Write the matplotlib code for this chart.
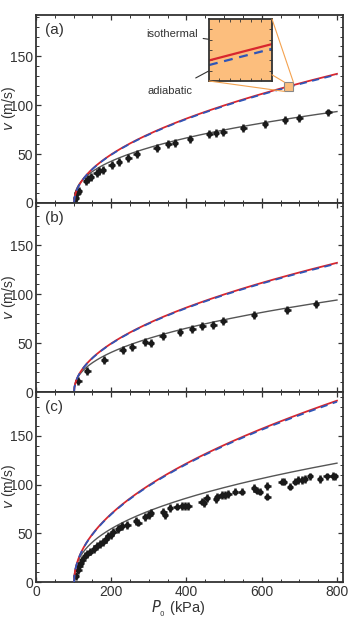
import numpy as np
import matplotlib
matplotlib.use('Agg')
import matplotlib.pyplot as plt
from matplotlib.patches import Rectangle, ConnectionPatch
from matplotlib.ticker import MultipleLocator

plt.rcParams['font.family'] = ['Liberation Sans', 'DejaVu Sans']

# measured data, P0 in kPa, v in m/s
P_a = [104.5, 106.3, 109.9, 113.4, 132.9, 139.1, 145.3, 161.2, 168.3, 177.2, 201.1,
       220.6, 245.4, 267.5, 320.7, 351.7, 369.4, 409.3, 460.7, 478.4, 497.9, 551.1,
       608.6, 661.8, 699.9, 777.0]
v_a = [0.3, 5.4, 9.9, 12.6, 22.8, 24.5, 26.9, 30.9, 33.0, 33.7, 38.8,
       42.2, 46.3, 49.7, 56.5, 59.9, 61.6, 65.3, 70.4, 71.8, 72.4, 76.9,
       80.6, 84.7, 86.7, 92.5]

P_b = [112.5, 136.4, 181.6, 230.3, 256.0, 289.7, 304.8, 336.7, 382.7, 415.5,
       442.1, 471.3, 497.9, 579.4, 668.0, 744.2]
v_b = [11.6, 21.8, 33.0, 42.9, 45.6, 51.4, 50.0, 56.8, 60.9, 64.3,
       67.7, 68.7, 72.4, 78.6, 83.7, 89.5]

P_c = [106.3, 112.5, 115.2, 118.7, 123.1, 130.2, 136.4, 143.5, 154.2, 161.2,
       170.1, 179.0, 186.0, 192.3, 198.5, 205.5, 218.8, 227.7, 242.7, 265.8,
       272.0, 289.7, 301.2, 304.8, 338.4, 342.9, 356.1, 373.9, 387.2, 396.0,
       404.9, 440.3, 446.5, 453.6, 478.4, 482.0, 493.5, 502.3, 511.2, 528.9,
       546.6, 579.4, 586.4, 595.3, 614.8, 614.8, 652.9, 659.1, 675.0, 688.4,
       697.2, 706.1, 715.0, 728.2, 754.8, 772.5, 788.5, 794.7]
v_c = [6.2, 12.3, 16.8, 19.9, 22.6, 27.1, 28.8, 31.2, 33.6, 37.0,
       39.1, 41.4, 43.9, 47.3, 48.3, 51.7, 54.1, 57.6, 58.6, 63.0,
       61.0, 66.5, 68.9, 71.3, 72.3, 68.9, 75.7, 77.4, 78.1, 78.1,
       78.1, 82.6, 80.9, 86.0, 85.0, 87.7, 89.4, 89.4, 90.4, 92.8,
       92.8, 96.3, 93.9, 92.8, 98.7, 87.7, 103.1, 103.1, 98.0, 103.1,
       104.8, 104.8, 105.9, 108.3, 105.9, 108.3, 108.9, 108.3]

# model parameters
P_atm = 101.3
k_iso = [4.99, 4.99, 7.04]
adiab_ratio = 0.994
fit_A = [6.8, 5.62, 8.32]
fit_n = [0.40, 0.43, 0.41]

def v_theory(P, k):
    return k*np.sqrt(np.clip(P - P_atm, 0, None))

def v_fit(P, A, n):
    return A*np.clip(P - P_atm, 0, None)**n

data = [(P_a, v_a), (P_b, v_b), (P_c, v_c)]
labels = ['(a)', '(b)', '(c)']
dark = '#333333'
red = '#d8262e'
blue = '#2f55b8'

fig = plt.figure(figsize=(3.54, 6.2), dpi=100)
left, width = 36/354, 307/354
bottoms = [1 - 203/620, 1 - 392/620, 1 - 582/620]
heights = [188/620, 189/620, 190/620]
ylims = [192, 193, 195]

P = np.linspace(P_atm, 800, 800)
axes = []
for i in range(3):
    ax = fig.add_axes([left, bottoms[i], width, heights[i]])
    axes.append(ax)
    ax.plot(P, v_fit(P, fit_A[i], fit_n[i]), color='#555555', lw=1.0, zorder=2)
    ax.errorbar(data[i][0], data[i][1], xerr=9, yerr=4, fmt='o', ms=3,
                color='#1a1a1a', elinewidth=1.8, capsize=0, zorder=3)
    ax.plot(P, v_theory(P, k_iso[i]), color=red, lw=1.3, zorder=4)
    ax.plot(P, adiab_ratio*v_theory(P, k_iso[i]), color=blue, lw=1.3,
            dashes=(4, 3), zorder=5)
    ax.set_xlim(0, 816)
    ax.set_ylim(0, ylims[i])
    ax.xaxis.set_major_locator(MultipleLocator(200))
    ax.xaxis.set_minor_locator(MultipleLocator(50))
    ax.yaxis.set_major_locator(MultipleLocator(50))
    ax.yaxis.set_minor_locator(MultipleLocator(10))
    ax.tick_params(which='both', direction='in', top=True, right=True,
                   colors=dark, labelsize=10, pad=2)
    ax.tick_params(which='major', length=3.5, width=0.9)
    ax.tick_params(which='minor', length=2, width=0.7)
    for s in ax.spines.values():
        s.set_color(dark)
        s.set_linewidth(1.3)
    ax.set_ylabel(r'$v$ (m/s)', color=dark, fontsize=10, va='center')
    ax.yaxis.set_label_coords(-0.088, 0.5)
    ax.text(0.03, 0.96, labels[i], transform=ax.transAxes, ha='left', va='top',
            fontsize=11, color=dark)
    if i < 2:
        ax.tick_params(labelbottom=False)

axes[2].set_xlabel(r'$P_{_0}$ (kPa)', color=dark, fontsize=10.5)
axes[2].xaxis.set_label_coords(0.463, -0.088)

# zoom inset in panel (a)
ax = axes[0]
zx0, zx1, zy0, zy1 = 660, 684, 114, 123.5
orange = '#fcbe7d'
ax.add_patch(Rectangle((zx0, zy0), zx1 - zx0, zy1 - zy0, facecolor=orange,
                       edgecolor='#888888', lw=0.8, zorder=6))
ins = fig.add_axes([209/354, 1 - 81/620, 63/354, 62/620])
ins.set_facecolor(orange)
Pz = np.linspace(zx0, zx1, 50)
ins.plot(Pz, v_theory(Pz, k_iso[0]) - 0.8, color=red, lw=1.6)
ins.plot(Pz, adiab_ratio*v_theory(Pz, k_iso[0]) - 0.8, color=blue, lw=1.6, dashes=(4, 3))
ins.set_xlim(zx0, zx1)
ins.set_ylim(zy0, zy1)
ins.set_xticks(np.linspace(zx0, zx1, 7)[1:-1])
ins.set_yticks(np.linspace(zy0, zy1, 7)[1:-1])
ins.tick_params(direction='in', top=True, right=True, length=2, width=0.6,
                labelbottom=False, labelleft=False, colors=dark)
for s in ins.spines.values():
    s.set_color(dark)
    s.set_linewidth(1.3)

line_col = '#f4a24f'
for (xa, ya), (xb, yb) in [((1, 1), (zx1, zy1)), ((1, 0.1), (zx0, zy1)), ((0, 0), (zx0, zy0))]:
    con = ConnectionPatch(xyA=(xa, ya), coordsA=ins.transAxes, xyB=(xb, yb),
                          coordsB=ax.transData, color=line_col, lw=0.8, zorder=1)
    fig.add_artist(con)

ax.annotate('isothermal', xy=(0.36, 0.62), xycoords=ins.transAxes,
            xytext=(146/354, 1 - 34/620), textcoords='figure fraction',
            ha='left', va='center', fontsize=8, color=dark,
            arrowprops=dict(arrowstyle='-|>', color=dark, lw=0.8, shrinkA=2,
                            shrinkB=0, mutation_scale=7))
ax.annotate('adiabatic', xy=(0.25, 0.3), xycoords=ins.transAxes,
            xytext=(147/354, 1 - 91/620), textcoords='figure fraction',
            ha='left', va='center', fontsize=8, color=dark,
            arrowprops=dict(arrowstyle='-|>', color=dark, lw=0.8, shrinkA=8,
                            shrinkB=0, mutation_scale=7, relpos=(0.75, 1)))

fig.savefig('out.png', dpi=100)
